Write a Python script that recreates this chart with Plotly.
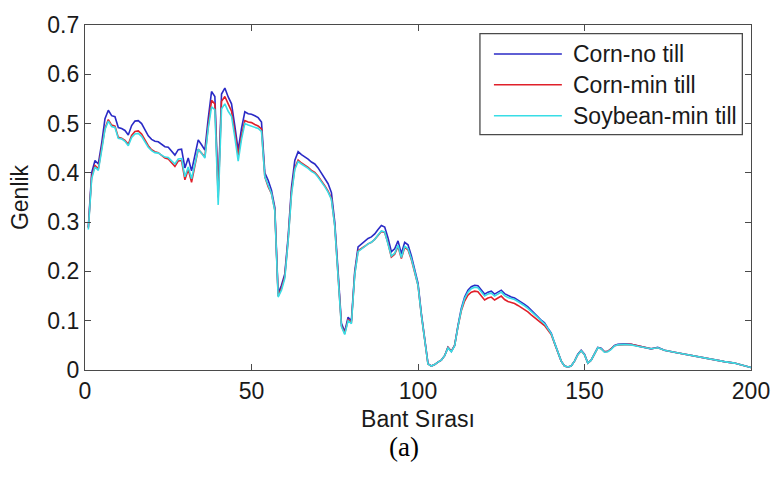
import plotly.graph_objects as go

bands = list(range(1, 161)) + [162, 164, 166, 168, 170, 172, 174, 177, 180, 183, 186, 189, 192, 195, 198, 200]

corn_no_till = [
    .290, .400, .425, .418, .460, .510, .527, .516, .514, .492,
    .490, .486, .477, .496, .505, .506, .500, .488, .475, .468,
    .464, .463, .458, .453, .452, .445, .436, .447, .448, .410,
    .430, .404, .435, .467, .457, .446, .510, .565, .555, .360,
    .560, .572, .554, .540, .495, .446, .490, .524, .520, .519,
    .516, .512, .503, .400, .385, .365, .330, .155, .172, .195,
    .270, .370, .425, .443, .437, .433, .428, .422, .418, .410,
    .400, .390, .378, .360, .300, .200, .095, .078, .107, .100,
    .200, .250, .256, .262, .267, .270, .276, .285, .293, .290,
    .268, .240, .246, .262, .236, .259, .254, .232, .205, .176,
    .115, .060, .013, .008, .011, .016, .020, .029, .046, .038,
    .050, .090, .125, .148, .162, .169, .172, .171, .163, .154,
    .158, .160, .154, .158, .162, .155, .151, .148, .146, .142,
    .138, .133, .128, .122, .115, .108, .101, .096, .085, .075,
    .055, .036, .018, .008, .006, .008, .018, .032, .040, .032,
    .014, .020, .032, .046, .044, .037, .038, .043, .050, .052,
    .053, .052, .049, .046, .043, .046, .040, .036, .032, .029,
    .025, .021, .017, .014, .009, .005,
]

corn_min_till = [
    .288, .392, .415, .408, .450, .490, .508, .497, .495, .472,
    .470, .466, .458, .476, .484, .485, .479, .467, .455, .447,
    .443, .441, .436, .430, .428, .420, .413, .424, .425, .386,
    .407, .381, .415, .448, .440, .432, .495, .547, .540, .350,
    .545, .555, .540, .525, .482, .435, .475, .506, .503, .502,
    .498, .495, .489, .392, .372, .358, .325, .150, .166, .190,
    .264, .360, .410, .426, .420, .416, .411, .405, .401, .393,
    .384, .374, .363, .348, .293, .196, .090, .074, .102, .096,
    .195, .242, .246, .251, .256, .259, .265, .274, .281, .279,
    .257, .229, .235, .251, .226, .249, .244, .224, .199, .172,
    .112, .058, .012, .008, .011, .016, .020, .029, .046, .038,
    .050, .088, .120, .140, .152, .158, .160, .159, .150, .142,
    .146, .148, .142, .146, .150, .143, .139, .137, .135, .131,
    .127, .122, .118, .112, .106, .100, .094, .090, .081, .072,
    .054, .036, .018, .008, .006, .008, .018, .031, .039, .031,
    .014, .020, .032, .045, .043, .037, .038, .043, .049, .051,
    .052, .052, .049, .046, .043, .045, .040, .036, .032, .029,
    .025, .021, .017, .014, .009, .005,
]

soybean_min_till = [
    .285, .388, .412, .405, .445, .488, .505, .494, .492, .470,
    .469, .464, .455, .472, .479, .480, .474, .463, .452, .445,
    .441, .440, .436, .432, .431, .424, .418, .428, .429, .392,
    .412, .388, .420, .448, .440, .430, .490, .534, .528, .335,
    .530, .540, .525, .515, .472, .424, .468, .500, .497, .495,
    .492, .490, .484, .392, .375, .358, .323, .148, .162, .186,
    .262, .355, .407, .423, .418, .414, .409, .403, .399, .391,
    .382, .372, .361, .346, .292, .195, .088, .072, .100, .094,
    .193, .240, .245, .251, .256, .259, .265, .274, .282, .280,
    .258, .231, .237, .253, .228, .251, .246, .226, .200, .172,
    .112, .058, .012, .008, .011, .016, .020, .029, .045, .037,
    .049, .088, .122, .145, .158, .165, .168, .167, .159, .150,
    .154, .156, .150, .154, .158, .151, .147, .145, .143, .139,
    .135, .130, .125, .119, .112, .105, .099, .094, .084, .074,
    .055, .036, .018, .008, .006, .008, .018, .031, .039, .031,
    .014, .020, .032, .045, .043, .036, .037, .042, .049, .051,
    .052, .051, .048, .046, .043, .045, .040, .036, .032, .029,
    .025, .021, .017, .014, .009, .005,
]

series_names = ["Corn-no till", "Corn-min till", "Soybean-min till"]
series_colors = ["#2a2ac6", "#e0202a", "#38dde6"]
series_values = [corn_no_till, corn_min_till, soybean_min_till]

x_ticks = [0, 50, 100, 150, 200]
y_ticks = [0, 0.1, 0.2, 0.3, 0.4, 0.5, 0.6, 0.7]
y_tick_labels = ["0", "0.1", "0.2", "0.3", "0.4", "0.5", "0.6", "0.7"]

FONT = "Liberation Sans, Arial, sans-serif"
AXC = "#4a4a4a"
FS = 23

fig = go.Figure()
for name, color, vals in zip(series_names, series_colors, series_values):
    fig.add_trace(go.Scatter(x=bands, y=vals, mode="lines", name=name,
                             line=dict(color=color, width=1.6), showlegend=False))

axis_common = dict(showline=True, linecolor=AXC, linewidth=1.3, mirror="ticks",
                   ticks="inside", ticklen=6, tickcolor=AXC, tickwidth=1.2,
                   showgrid=False, zeroline=False,
                   tickfont=dict(family=FONT, size=FS, color="#1a1a1a"))

fig.update_layout(
    width=782, height=477,
    margin=dict(l=85, r=24, t=12, b=107),
    paper_bgcolor="white", plot_bgcolor="white",
    xaxis=dict(range=[0, 200], tickvals=x_ticks, **axis_common,
               title=dict(text="Bant Sırası", font=dict(family=FONT, size=FS, color="#1a1a1a"), standoff=8)),
    yaxis=dict(range=[0, 0.7], tickvals=y_ticks, ticktext=y_tick_labels, **axis_common,
               title=dict(text="Genlik", font=dict(family=FONT, size=FS, color="#1a1a1a"), standoff=12)),
)

# legend box drawn manually (MATLAB style)
fig.add_shape(type="rect", xref="paper", yref="paper", x0=0.593, x1=0.987, y0=0.682, y1=0.975,
              line=dict(color=AXC, width=1.3), fillcolor="white", layer="above")
legend_rows = [0.916, 0.827, 0.737]
for name, color, yy in zip(series_names, series_colors, legend_rows):
    fig.add_shape(type="line", xref="paper", yref="paper", x0=0.614, x1=0.716, y0=yy, y1=yy,
                  line=dict(color=color, width=1.6), layer="above")
    fig.add_annotation(xref="paper", yref="paper", x=0.7296, y=yy, text=name, showarrow=False,
                       xanchor="left", yanchor="middle",
                       font=dict(family=FONT, size=FS, color="#1a1a1a"))

fig.add_annotation(xref="paper", yref="paper", x=(407 - 85) / 673, y=(370 - 450) / 358, text="(a)",
                   showarrow=False, xanchor="center", yanchor="middle",
                   font=dict(family="Liberation Serif, Times New Roman, serif", size=27, color="black"))

fig.write_html("out.html")
